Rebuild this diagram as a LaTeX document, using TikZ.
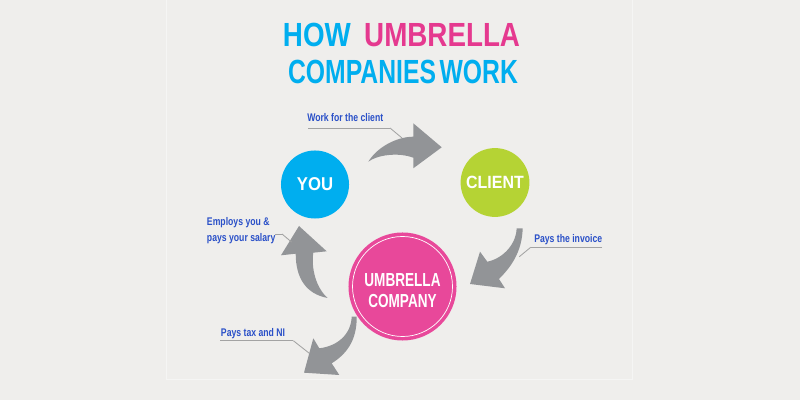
\documentclass[tikz,border=0pt]{standalone}
\usepackage{fontspec}
\usepackage{tkz-euclide}
\setmainfont{Liberation Sans}
\newfontfamily\titlefont[FakeStretch=0.83]{Liberation Sans}
\newfontfamily\circlefont[FakeStretch=0.9]{Liberation Sans}
\newfontfamily\umbrellafont[FakeStretch=0.72]{Liberation Sans}
\newfontfamily\notefont[FakeStretch=0.78]{Liberation Sans}

\definecolor{bgcol}{HTML}{EFEEEC}
\definecolor{youblue}{HTML}{00AEEF}
\definecolor{clientgreen}{HTML}{B5D334}
\definecolor{umbpink}{HTML}{E8489A}
\definecolor{titlepink}{HTML}{E5398F}
\definecolor{noteblue}{HTML}{2A50C8}
\definecolor{arrowgray}{HTML}{929497}
\definecolor{leadgray}{HTML}{A3A3A3}

\tikzset{
	party/.style={circle, inner sep=0pt, text=white,
		font=\circlefont\bfseries\fontsize{13.2}{15}\selectfont},
	note/.style={anchor=base west, inner sep=0pt, text=noteblue, align=left,
		font=\notefont\bfseries\fontsize{7.9}{11.2}\selectfont},
	leader/.style={-, color=leadgray, line width=0.6pt},
	flow/.style={fill=arrowgray}
}

\begin{document}
\begin{tikzpicture}[x=0.025cm, y=0.025cm]
	\useasboundingbox (0,0) rectangle (800,400);
	\fill[bgcol] (0,0) rectangle (800,400);
	\draw[white!40!bgcol, line width=0.6pt] (166.5,400) |- (632,21) -- (632,400);

	% title
	\node[anchor=base, font=\titlefont\bfseries\fontsize{23.8}{28}\selectfont] (title1) at (401.5,353.3)
		{\textcolor{youblue}{HOW}\hspace{0.4em}\textcolor{titlepink}{UMBRELLA}};
	\node[anchor=base, text=youblue, font=\titlefont\bfseries\fontsize{23.8}{28}\selectfont] (title2) at (403,316)
		{\scalebox{0.89}[1]{COMPANIES\hspace{0.12em}WORK}};

	% arrow you -> client
	\tkzDefPoint(368.3,238.3){a1t}
	\tkzDefPoint(413.3,263.3){a1b}
	\tkzDefPoint(413.3,276.7){a1h}
	\tkzDefPoint(441.7,252.7){a1p}
	\tkzDefPoint(413.3,231.7){a1k}
	\tkzDefPoint(413.3,242.3){a1c}

	% arrow client -> umbrella
	\tkzDefPoint(516.7,171.7){a2t}
	\tkzDefPoint(487.3,138.3){a2c}
	\tkzDefPoint(480,148.3){a2h}
	\tkzDefPoint(470,116){a2p}
	\tkzDefPoint(505,111.7){a2k}
	\tkzDefPoint(499,121){a2b}
	\tkzDefPoint(522.7,171.7){a2s}

	% arrow umbrella -> you
	\tkzDefPoint(327.7,102){a3t}
	\tkzDefPoint(295.7,146.3){a3c}
	\tkzDefPoint(281,144.7){a3h}
	\tkzDefPoint(299,174){a3p}
	\tkzDefPoint(326.7,148.7){a3k}
	\tkzDefPoint(313.3,147.3){a3b}

	% arrow umbrella -> tax
	\tkzDefPoint(351.7,83.3){a4t}
	\tkzDefPoint(319.3,51.7){a4c}
	\tkzDefPoint(313.3,61.7){a4h}
	\tkzDefPoint(304,27.3){a4p}
	\tkzDefPoint(339.3,25){a4k}
	\tkzDefPoint(331.7,36.7){a4b}
	\tkzDefPoint(356.7,83.3){a4s}

	\path[flow] (a1t) .. controls (378,254) and (398,263.3) .. (a1b) -- (a1h) -- (a1p) -- (a1k) -- (a1c)
		.. controls (398,248) and (377,245) .. (a1t) -- cycle;
	\path[flow] (a2t) .. controls (516.5,158) and (505,142) .. (a2c) -- (a2h) -- (a2p) -- (a2k) -- (a2b)
		.. controls (511,133) and (522,148) .. (a2s) -- cycle;
	\path[flow] (a3t) .. controls (306,106) and (295.7,122) .. (a3c) -- (a3h) -- (a3p) -- (a3k) -- (a3b)
		.. controls (311,132) and (316,112) .. (a3t) -- cycle;
	\path[flow] (a4t) .. controls (351,66) and (338,54) .. (a4c) -- (a4h) -- (a4p) -- (a4k) -- (a4b)
		.. controls (345,45) and (357,58) .. (a4s) -- cycle;

	% parties
	\node[party, fill=youblue, minimum size=1.7cm] (you) at (315,215.5) {YOU};
	\node[party, fill=clientgreen, minimum size=1.72cm,
		font=\circlefont\bfseries\fontsize{12.6}{15}\selectfont] (client) at (495,217.5) {CLIENT};
	\node[party, fill=umbpink, minimum size=2.7cm] (umbrella) at (402.5,113.5) {};
	\draw[white, line width=0.5pt] (umbrella.center) circle (50);
	\node[party, align=center, font=\umbrellafont\bfseries\fontsize{13.4}{15.4}\selectfont]
		(umbrellatext) at (402.5,109.5) {UMBRELLA\\COMPANY};

	% notes
	\node[note] (work) at (307,278.3) {Work for the client};
	\node[note] (invoice) at (534,157.7) {Pays the invoice};
	\node[note] (employs) at (206.7,158.3) {Employs you \&\\pays your salary};
	\node[note] (tax) at (220.7,63.3) {Pays tax and NI};

	\tkzDefPoint(308,272){w1}
	\tkzDefPoint(390,272){w2}
	\tkzDefPoint(402,262){w3}
	\tkzDefPoint(602,152.7){i1}
	\tkzDefPoint(530.7,152.7){i2}
	\tkzDefPoint(519.3,143.3){i3}
	\tkzDefPoint(275,166){e1}
	\tkzDefPoint(282,166){e2}
	\tkzDefPoint(291.5,158){e3}
	\tkzDefPoint(220,59.3){t1}
	\tkzDefPoint(293.3,59.3){t2}
	\tkzDefPoint(309.3,46.7){t3}

	\path[leader] (w1) edge (w2);
	\path[leader] (w2) edge (w3);
	\path[leader] (i1) edge (i2);
	\path[leader] (i2) edge (i3);
	\path[leader] (e1) edge (e2);
	\path[leader] (e2) edge (e3);
	\path[leader] (t1) edge (t2);
	\path[leader] (t2) edge (t3);
\end{tikzpicture}
\end{document}
